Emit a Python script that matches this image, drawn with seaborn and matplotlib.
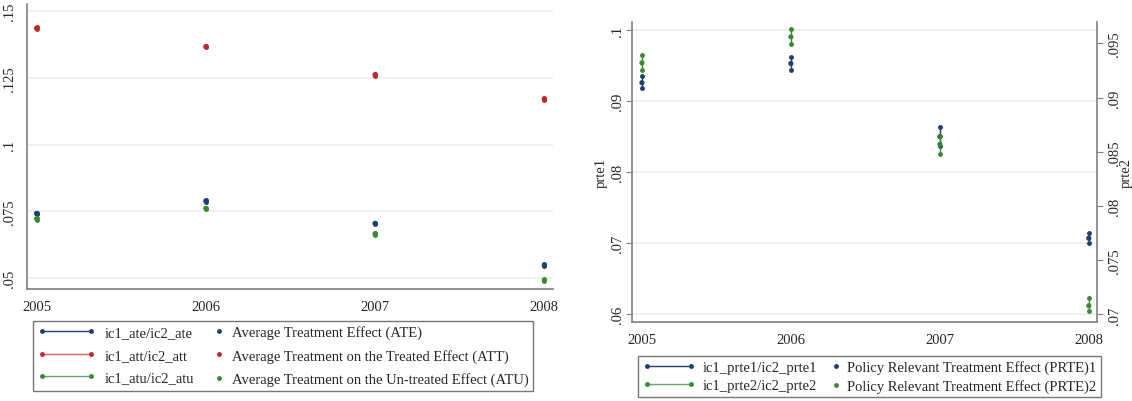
# ATE / ATT / ATU and PRTE estimates with their ic1/ic2 ranges, by year

import pandas as pd
import seaborn as sns
import matplotlib.pyplot as plt
from matplotlib.lines import Line2D
from matplotlib.legend_handler import HandlerBase

years = [2005, 2006, 2007, 2008]

# left panel point estimates
ate = [0.0742, 0.0789, 0.0705, 0.0548]
att = [0.1436, 0.1367, 0.1262, 0.1171]
atu = [0.0722, 0.0761, 0.0666, 0.0492]

# left panel ranges (ic1 / ic2), very narrow
ate_ic1 = [0.0739, 0.0786, 0.0702, 0.0545]
ate_ic2 = [0.0745, 0.0792, 0.0708, 0.0551]
att_ic1 = [0.1433, 0.1364, 0.1259, 0.1168]
att_ic2 = [0.1439, 0.1370, 0.1265, 0.1174]
atu_ic1 = [0.0719, 0.0758, 0.0663, 0.0489]
atu_ic2 = [0.0725, 0.0764, 0.0669, 0.0495]

# right panel: prte1 (left axis), prte2 (right axis)
prte1 = [0.0926, 0.0953, 0.0850, 0.0707]
prte1_ic1 = [0.0918, 0.0944, 0.0837, 0.0700]
prte1_ic2 = [0.0935, 0.0962, 0.0864, 0.0715]
prte2 = [0.0932, 0.0956, 0.0857, 0.0708]
prte2_ic1 = [0.0925, 0.0949, 0.0848, 0.0703]
prte2_ic2 = [0.0939, 0.0963, 0.0865, 0.0715]

NAVY = '#1f3f6e'
RED = '#c0282d'
GREEN = '#3a8a35'
SPINE = '#7f7f7f'

sns.set_style('white')
plt.rcParams['font.family'] = ['Liberation Serif', 'DejaVu Serif']
plt.rcParams['font.size'] = 10.5


class DotHandler(HandlerBase):
    # single dot at the right end of the handle box, just before the text
    def create_artists(self, legend, orig_handle, xdescent, ydescent,
                       width, height, fontsize, trans):
        dot = Line2D([-xdescent + width - 3], [(height - ydescent) / 2],
                     ls='', marker='o', ms=2.5, color=orig_handle.get_color())
        dot.set_transform(trans)
        return [dot]


def style_axis(ax, yticks, ylabels):
    ax.set_yticks(yticks)
    ax.set_yticklabels(ylabels, rotation=90, va='center')
    ax.set_xticks(years)
    ax.set_xticklabels([str(y) for y in years])
    ax.tick_params(axis='both', length=4, width=0.8, color=SPINE, labelsize=10.5, pad=4)
    for y in yticks:
        ax.axhline(y, color='#eeeeee', lw=1.2, zorder=0)
    for s in ['top', 'right']:
        ax.spines[s].set_visible(False)
    for s in ['left', 'bottom']:
        ax.spines[s].set_color(SPINE)
        ax.spines[s].set_linewidth(1.2)


def draw_range(ax, lo, hi, color):
    for x, a, b in zip(years, lo, hi):
        ax.plot([x, x], [a, b], color=color, lw=1, marker='o', ms=2.5, zorder=2)


def make_legend(fig, lines, dots, labels, anchor, hl, tp, cs, ls):
    hmap = {d: DotHandler() for d in dots}
    leg = fig.legend(lines + dots, labels, ncol=2, loc='upper left',
                     bbox_to_anchor=anchor, borderaxespad=0, fontsize=10.5,
                     frameon=True, fancybox=False, edgecolor='#555555',
                     handlelength=hl, handletextpad=tp, columnspacing=cs,
                     labelspacing=ls, borderpad=0.3, numpoints=2,
                     handler_map=hmap)
    leg.get_frame().set_linewidth(1.0)
    return leg


fig = plt.figure(figsize=(11.32, 4.02), dpi=100)

# ---------------- left panel
ax1 = fig.add_axes([27.4 / 1132, 1 - 290 / 402, 526 / 1132, 285 / 402])
left_df = pd.DataFrame({
    'year': years * 3,
    'value': ate + att + atu,
    'series': ['ATE'] * 4 + ['ATT'] * 4 + ['ATU'] * 4,
})
draw_range(ax1, ate_ic1, ate_ic2, NAVY)
draw_range(ax1, att_ic1, att_ic2, RED)
draw_range(ax1, atu_ic1, atu_ic2, GREEN)
sns.scatterplot(data=left_df, x='year', y='value', hue='series',
                palette={'ATE': NAVY, 'ATT': RED, 'ATU': GREEN},
                s=14, edgecolor='none', legend=False, ax=ax1, zorder=3)
ax1.set_xlim(2004.946, 2008.054)
ax1.set_ylim(0.0459, 0.1527)
ax1.set_xlabel('')
ax1.set_ylabel('')
style_axis(ax1, [0.05, 0.075, 0.1, 0.125, 0.15], ['.05', '.075', '.1', '.125', '.15'])

lines_left = [
    Line2D([], [], color=NAVY, lw=1, marker='o', ms=2.5),
    Line2D([], [], color='#e06060', lw=1, marker='o', ms=2.5, mfc=RED, mec=RED),
    Line2D([], [], color='#66a366', lw=1, marker='o', ms=2.5, mfc=GREEN, mec=GREEN),
]
dots_left = [Line2D([], [], ls='', color=c, marker='o', ms=2.5) for c in (NAVY, RED, GREEN)]
labels_left = ['ic1_ate/ic2_ate', 'ic1_att/ic2_att', 'ic1_atu/ic2_atu',
               'Average Treatment Effect (ATE)',
               'Average Treatment on the Treated Effect (ATT)',
               'Average Treatment on the Un-treated Effect (ATU)']
make_legend(fig, lines_left, dots_left, labels_left,
            (32.9 / 1132, 1 - 322 / 402), hl=4.0, tp=0.6, cs=-2.0, ls=0.65)

# ---------------- right panel
ax2 = fig.add_axes([632.4 / 1132, 1 - 323 / 402, 464.9 / 1132, 300.3 / 402])
ax3 = ax2.twinx()
right1 = pd.DataFrame({'year': years, 'value': prte1})
right2 = pd.DataFrame({'year': years, 'value': prte2})
draw_range(ax2, prte1_ic1, prte1_ic2, NAVY)
sns.scatterplot(data=right1, x='year', y='value', color=NAVY, s=14,
                edgecolor='none', legend=False, ax=ax2, zorder=3)
draw_range(ax3, prte2_ic1, prte2_ic2, GREEN)
sns.scatterplot(data=right2, x='year', y='value', color=GREEN, s=14,
                edgecolor='none', legend=False, ax=ax3, zorder=3)

ax2.set_xlim(2004.936, 2008.057)
ax2.set_ylim(0.0589, 0.1012)
ax3.set_ylim(0.0693, 0.0970)
ax2.set_xlabel('')
style_axis(ax2, [0.06, 0.07, 0.08, 0.09, 0.1], ['.06', '.07', '.08', '.09', '.1'])
ax2.tick_params(axis='y', pad=2)
ax2.set_ylabel('prte1', fontsize=10.5, ha='center', va='center')
ax2.yaxis.set_label_coords(-0.066, 0.5)

ax3.set_yticks([0.07, 0.075, 0.08, 0.085, 0.09, 0.095])
ax3.set_yticklabels(['.07', '.075', '.08', '.085', '.09', '.095'], rotation=90, va='center')
ax3.tick_params(axis='y', length=4, width=0.8, color=SPINE, labelsize=10.5, pad=4)
ax3.set_ylabel('prte2', fontsize=10.5, rotation=90, ha='center', va='center')
ax3.yaxis.set_label_coords(1.062, 0.5)
for s in ['top', 'left', 'bottom']:
    ax3.spines[s].set_visible(False)
ax3.spines['right'].set_visible(True)
ax3.spines['right'].set_color(SPINE)
ax3.spines['right'].set_linewidth(1.2)

lines_right = [
    Line2D([], [], color=NAVY, lw=1, marker='o', ms=2.5),
    Line2D([], [], color='#66a366', lw=1, marker='o', ms=2.5, mfc=GREEN, mec=GREEN),
]
dots_right = [Line2D([], [], ls='', color=c, marker='o', ms=2.5) for c in (NAVY, GREEN)]
labels_right = ['ic1_prte1/ic2_prte1', 'ic1_prte2/ic2_prte2',
                'Policy Relevant Treatment Effect (PRTE)1',
                'Policy Relevant Treatment Effect (PRTE)2']
make_legend(fig, lines_right, dots_right, labels_right,
            (638.4 / 1132, 1 - 356.7 / 402), hl=3.6, tp=0.5, cs=-2.05, ls=0.35)

fig.savefig('out.png', dpi=100)
